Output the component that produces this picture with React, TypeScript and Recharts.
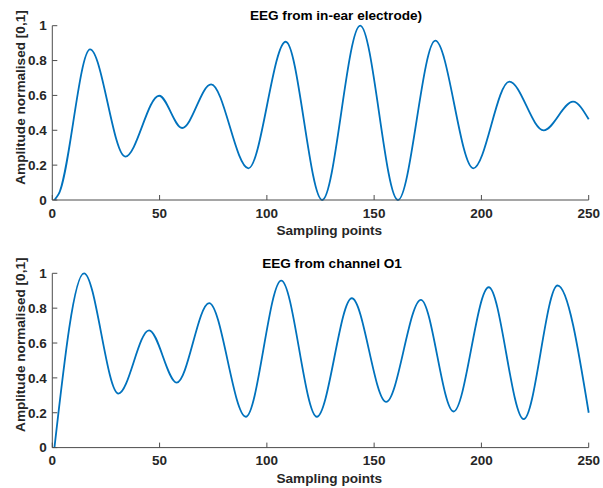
import { Line, LineChart, XAxis, YAxis } from "recharts";

// sampling points (x) and normalised amplitude (y) at the turning points of each trace
const earX = [1, 3, 17.6, 34, 49.8, 60.5, 74, 91.4, 108.8, 125.8, 143.5, 161.1, 178.5, 196.2, 213, 229, 242.7, 250];
const earY = [0, 0.035, 0.864, 0.249, 0.598, 0.413, 0.663, 0.182, 0.908, 0, 1, 0, 0.914, 0.182, 0.679, 0.4, 0.564, 0.463];

const o1X = [1, 14.8, 30.8, 45.1, 58, 73.1, 90.2, 106.7, 123.3, 139.6, 155.6, 171.8, 187, 203.4, 219.7, 235.5, 250];
const o1Y = [0, 1, 0.31, 0.673, 0.373, 0.829, 0.177, 0.958, 0.177, 0.857, 0.262, 0.848, 0.207, 0.92, 0.163, 0.93, 0.2];

const xTicks = [0, 50, 100, 150, 200, 250];
const yTicks = [0, 0.2, 0.4, 0.6, 0.8, 1];

const titles = ["EEG from in-ear electrode)", "EEG from channel O1"];
const xLabel = "Sampling points";
const yLabel = "Amplitude normalised [0,1]";

const FONT = "'Liberation Sans', Arial, Helvetica, sans-serif";
const AXIS = "#262626";
const FRAME = "#4d4d4d";
const BLUE = "#0072BD";

const tickStyle = { fontSize: 13.5, fontWeight: 700, fill: AXIS, fontFamily: FONT };

function Panel({ xs, ys, top }: { xs: number[]; ys: number[]; top: number }) {
  const data = xs.map((x, i) => ({ x, y: ys[i] }));
  return (
    <LineChart
      width={603}
      height={244}
      data={data}
      margin={{ top, right: 14.3, bottom: 244 - top - 174.3 - 30, left: 12.3 }}
    >
      <XAxis
        dataKey="x"
        type="number"
        domain={[0, 250]}
        ticks={xTicks}
        interval={0}
        height={30}
        stroke={FRAME}
        tickSize={-5}
        tickMargin={13}
        tick={tickStyle}
      />
      <XAxis
        xAxisId="top"
        orientation="top"
        type="number"
        domain={[0, 250]}
        ticks={xTicks}
        interval={0}
        height={0}
        stroke={FRAME}
        tickSize={-5}
        tick={false}
      />
      <YAxis
        type="number"
        domain={[0, 1]}
        ticks={yTicks}
        interval={0}
        width={40}
        stroke={FRAME}
        tickSize={-5}
        tickMargin={10.5}
        tick={tickStyle}
      />
      <YAxis
        yAxisId="right"
        orientation="right"
        type="number"
        domain={[0, 1]}
        ticks={yTicks}
        interval={0}
        width={0}
        stroke={FRAME}
        tickSize={-5}
        tick={false}
      />
      <Line
        dataKey="y"
        type="monotone"
        stroke={BLUE}
        strokeWidth={1.8}
        dot={false}
        activeDot={false}
        isAnimationActive={false}
      />
    </LineChart>
  );
}

export default function App() {
  const text = { fontFamily: FONT, fontWeight: 700, fontSize: 13.6, fill: "#000" };
  return (
    <div style={{ position: "absolute", left: 0, top: 0, width: 603, height: 488, background: "#fff" }}>
      <Panel xs={earX} ys={earY} top={25.7} />
      <Panel xs={o1X} ys={o1Y} top={29.3} />
      <svg width={603} height={488} style={{ position: "absolute", left: 0, top: 0, pointerEvents: "none" }}>
        <text x={336} y={19.5} textAnchor="middle" {...text}>{titles[0]}</text>
        <text x={332} y={268} textAnchor="middle" {...text}>{titles[1]}</text>
        <text x={329.3} y={235} textAnchor="middle" {...text} fill={AXIS}>{xLabel}</text>
        <text x={329.3} y={483} textAnchor="middle" {...text} fill={AXIS}>{xLabel}</text>
        <text transform="translate(24.5,97.5) rotate(-90)" textAnchor="middle" {...text} fill={AXIS}>{yLabel}</text>
        <text transform="translate(24.5,344.7) rotate(-90)" textAnchor="middle" {...text} fill={AXIS}>{yLabel}</text>
      </svg>
    </div>
  );
}
